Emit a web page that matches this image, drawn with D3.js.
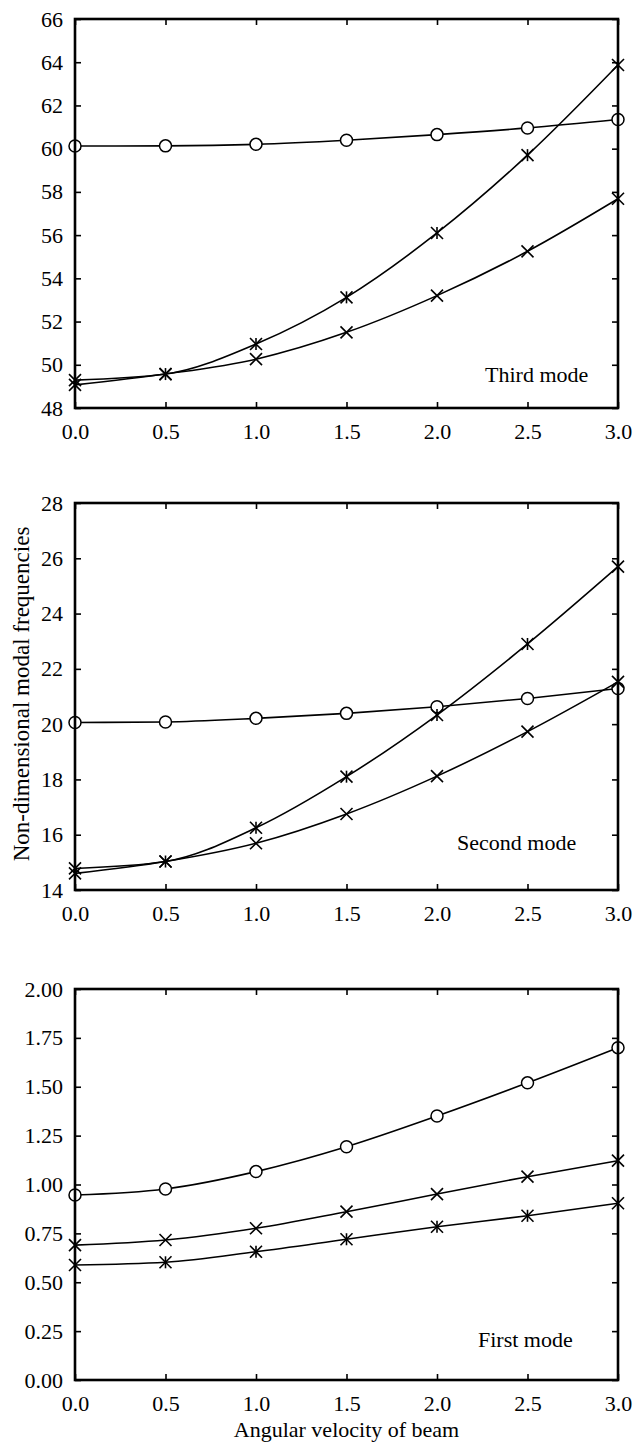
<!DOCTYPE html>
<html>
<head>
<meta charset="utf-8">
<script src="https://cdn.jsdelivr.net/npm/d3@7"></script>
<style>
  body { margin: 0; background: #fff; }
  svg text { font-family: "Liberation Serif", "DejaVu Serif", serif; fill: #000; }
</style>
</head>
<body>
<svg id="chart" width="637" height="1444"></svg>
<script>
// angular velocity of beam (x axis)
var omega = [0.0, 0.5, 1.0, 1.5, 2.0, 2.5, 3.0];
var xTicks = [0.0, 0.5, 1.0, 1.5, 2.0, 2.5, 3.0];

// third mode
var thirdCircle = [60.12, 60.13, 60.2, 60.39, 60.65, 60.96, 61.35];
var thirdStar = [49.29, 49.57, 50.96, 53.12, 56.1, 59.7, 63.87];
var thirdCross = [49.07, 49.57, 50.26, 51.5, 53.2, 55.25, 57.68];
var thirdTicks = [48, 50, 52, 54, 56, 58, 60, 62, 64, 66];

// second mode
var secondCircle = [20.06, 20.08, 20.21, 20.39, 20.63, 20.93, 21.29];
var secondStar = [14.78, 15.03, 16.25, 18.1, 20.33, 22.9, 25.7];
var secondCross = [14.6, 15.03, 15.69, 16.75, 18.12, 19.73, 21.53];
var secondTicks = [14, 16, 18, 20, 22, 24, 26, 28];

// first mode
var firstCircle = [0.946, 0.977, 1.066, 1.193, 1.35, 1.52, 1.70];
var firstCross = [0.69, 0.716, 0.776, 0.861, 0.951, 1.04, 1.122];
var firstStar = [0.588, 0.602, 0.656, 0.72, 0.784, 0.84, 0.904];
var firstTicks = [0, 0.25, 0.5, 0.75, 1.0, 1.25, 1.5, 1.75, 2.0];

var svg = d3.select("#chart");
var left = 75, right = 618;
var tickLen = 6;
var markSize = 6;
var fontSize = "22px";

var x = d3.scaleLinear().domain([0, 3]).range([left, right]);

var panels = [
    {top: 19, bottom: 408, domain: [48, 66], ticks: thirdTicks, fmt: d3.format("d"),
     label: "Third mode", lx: 485, ly: 382,
     series: [{v: thirdCircle, m: "circle"}, {v: thirdStar, m: "star"}, {v: thirdCross, m: "cross"}]},
    {top: 503, bottom: 890, domain: [14, 28], ticks: secondTicks, fmt: d3.format("d"),
     label: "Second mode", lx: 457, ly: 850,
     series: [{v: secondCircle, m: "circle"}, {v: secondStar, m: "star"}, {v: secondCross, m: "cross"}]},
    {top: 989, bottom: 1380, domain: [0, 2], ticks: firstTicks, fmt: d3.format(".2f"),
     label: "First mode", lx: 478, ly: 1347,
     series: [{v: firstCircle, m: "circle"}, {v: firstCross, m: "cross"}, {v: firstStar, m: "star"}]}
];

//Draw one marker shape at a point
function drawMarker(g, kind, px, py) {
    var s = markSize;
    if (kind == "circle") {
        g.append("circle").attr("cx", px).attr("cy", py).attr("r", s)
            .attr("fill", "#fff").attr("stroke", "#000").attr("stroke-width", 1.5);
        return;
    }
    var segs = [[-s, -s, s, s], [-s, s, s, -s]];
    if (kind == "star") segs.push([0, -s, 0, s]);
    segs.forEach(function(d) {
        g.append("line")
            .attr("x1", px + d[0]).attr("y1", py + d[1])
            .attr("x2", px + d[2]).attr("y2", py + d[3])
            .attr("stroke", "#000").attr("stroke-width", 1.6);
    });
}

panels.forEach(function(p) {
    var y = d3.scaleLinear().domain(p.domain).range([p.bottom, p.top]);
    var g = svg.append("g");

    // inward ticks on all four sides
    var axL = g.append("g").attr("transform", "translate(" + left + ",0)")
        .call(d3.axisLeft(y).tickValues(p.ticks).tickSizeInner(-tickLen).tickSizeOuter(0).tickPadding(12).tickFormat(p.fmt));
    var axR = g.append("g").attr("transform", "translate(" + right + ",0)")
        .call(d3.axisRight(y).tickValues(p.ticks).tickSizeInner(-tickLen).tickSizeOuter(0).tickFormat(""));
    var axT = g.append("g").attr("transform", "translate(0," + p.top + ")")
        .call(d3.axisTop(x).tickValues(xTicks).tickSizeInner(-tickLen).tickSizeOuter(0).tickFormat(""));
    var axB = g.append("g").attr("transform", "translate(0," + p.bottom + ")")
        .call(d3.axisBottom(x).tickValues(xTicks).tickSizeInner(-tickLen).tickSizeOuter(0).tickPadding(15).tickFormat(d3.format(".1f")));

    [axL, axR, axT, axB].forEach(function(a) {
        a.select(".domain").remove();
        a.selectAll("line").attr("stroke", "#000").attr("stroke-width", 1.6);
        a.selectAll("text").style("font-size", fontSize).style("font-family", "Liberation Serif");
    });
    axB.selectAll("text").attr("dy", "0.71em");

    // lines
    var line = d3.line()
        .x(function(d, i) { return x(omega[i]); })
        .y(function(d) { return y(d); })
        .curve(d3.curveMonotoneX);
    p.series.forEach(function(s) {
        g.append("path").attr("d", line(s.v))
            .attr("fill", "none").attr("stroke", "#000").attr("stroke-width", 1.6);
    });
    p.series.forEach(function(s) {
        s.v.forEach(function(d, i) { drawMarker(g, s.m, x(omega[i]), y(d)); });
    });

    // frame
    g.append("rect")
        .attr("x", left).attr("y", p.top)
        .attr("width", right - left).attr("height", p.bottom - p.top)
        .attr("fill", "none").attr("stroke", "#000").attr("stroke-width", 2.6);

    g.append("text").attr("x", p.lx).attr("y", p.ly)
        .style("font-size", fontSize).text(p.label);
});

// axis titles
svg.append("text")
    .attr("transform", "translate(29,694) rotate(-90)")
    .attr("text-anchor", "middle")
    .style("font-size", "23px")
    .text("Non-dimensional modal frequencies");

svg.append("text")
    .attr("x", (left + right) / 2).attr("y", 1437)
    .attr("text-anchor", "middle")
    .style("font-size", fontSize)
    .text("Angular velocity of beam");
</script>
</body>
</html>
